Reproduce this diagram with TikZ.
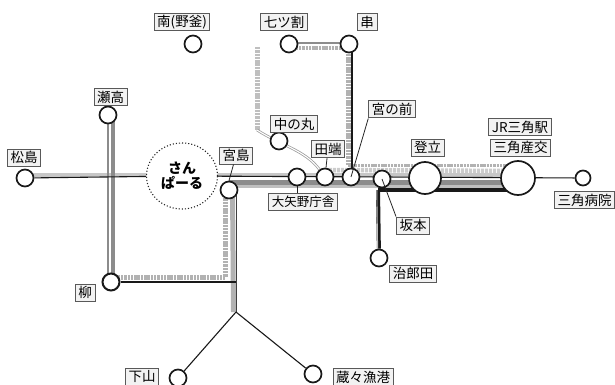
\documentclass[tikz,border=0pt]{standalone}
\usepackage{fontspec}
\setmainfont{Noto Sans CJK JP}
\usetikzlibrary{shapes.geometric}
\pgfdeclarelayer{bands}
\pgfsetlayers{bands,main}
\begin{document}
\begin{tikzpicture}[x=1pt,y=-1pt]
        \tikzstyle{station}=[circle,draw=black!90,fill=white,line width=1.7pt,inner sep=0pt,minimum size=17pt]
        \tikzstyle{bigstation}=[station,minimum size=32pt]
        \tikzstyle{stationname}=[draw=black!65,fill=black!5,line width=1pt,font=\fontsize{13.5pt}{14pt}\selectfont,inner xsep=3pt,inner ysep=0pt,minimum height=17pt,minimum width=20pt]
        \tikzstyle{leader}=[draw=black!85,line width=0.8pt]
        \tikzstyle{thinedge}=[draw=black!90,line width=1.1pt]
        \tikzstyle{lightedge}=[draw=black!22,line width=4.5pt]
        \tikzstyle{darkedge}=[draw=black!45,line width=3.5pt]
        \tikzstyle{dotedge}=[draw=black!30,line width=5pt,dash pattern=on 2.5pt off 0.8pt]
        \tikzstyle{heavyedge}=[draw=black!90,line width=4pt]
        \useasboundingbox (0,0) rectangle (615,385);

        % stations
        \node [station] (matsushima) at (25,178) {};
        \node [station] (setaka) at (108,115) {};
        \node [station] (minami) at (193,44) {};
        \node [station] (nanatsu) at (289,44) {};
        \node [station] (kushi) at (349,44) {};
        \node [station] (nakanomaru) at (279,141) {};
        \node [station] (miyanomae) at (351,177) {};
        \node [station] (tabata) at (325,177) {};
        \node [station] (oyano) at (297,177) {};
        \node [station] (miyajima) at (229,190) {};
        \node [station] (sakamoto) at (382,179) {};
        \node [bigstation] (noboritate) at (425,178) {};
        \node [bigstation,minimum size=34pt] (misumi) at (518,178) {};
        \node [station,minimum size=15pt] (byoin) at (583,178) {};
        \node [station] (jirota) at (379,258) {};
        \node [station,line width=2pt] (yanagi) at (111,282) {};
        \node [station] (shimoyama) at (178,378) {};
        \node [station] (kurakura) at (313,374) {};
        \node [ellipse,draw=black!85,dotted,line width=1.1pt,fill=white,minimum width=71pt,minimum height=66pt,inner sep=0pt,align=center,font=\fontsize{14pt}{15pt}\selectfont\bfseries] (sanparu) at (182,176) {さん\\ぱーる};

        % free ends of the lines
        \coordinate (fork) at (236,312);
        \coordinate (bendtop) at (257,47);
        \coordinate (bendlow) at (257,130);
        \coordinate (jointop) at (348,165);
        \coordinate (joinend) at (508,165);
        \coordinate (dashend) at (225,185);
        \coordinate (corner) at (378,190);
        \coordinate (corneryanagi) at (225,277);

        \begin{pgfonlayer}{bands}
         % west
         \path[lightedge] ([yshift=3pt]matsushima.center) -- ([yshift=3pt]sanparu.center |- matsushima.center);
         \path[draw=black!45,line width=2.5pt] ([xshift=0pt]setaka.center) -- ([xshift=-3pt]yanagi.center);
         \path[darkedge] ([xshift=5pt]setaka.center) -- ([xshift=2pt]yanagi.center);
         % main line
         \path[lightedge] ([yshift=3pt]sanparu.center |- misumi.center) -- ([yshift=3pt]misumi.center);
         \path[darkedge,line width=5pt] ([yshift=-4.5pt]miyajima.center |- misumi.center) -- ([yshift=-4.5pt]misumi.center);
         \path[draw=black!25,line width=3pt] ([yshift=-8.5pt]miyajima.center |- misumi.center) -- ([yshift=-8.5pt]misumi.center);
         \path[draw=black!20,line width=4.5pt,dash pattern=on 3pt off 1pt] ([yshift=7pt]tabata.center) -- ([yshift=7pt]misumi.center);
         \path[dotedge,line width=3pt] (jointop) -- (joinend);
         % north
         \path[darkedge,line width=2.5pt] ([yshift=1pt]nanatsu.center) -- ([yshift=1pt]kushi.center);
         \path[dotedge,line width=3.5pt] ([yshift=-4pt]nanatsu.center) -- ([yshift=-4pt]kushi.center);
         \path[dotedge] ([xshift=-1pt]kushi.center) -- (jointop);
         \path[thinedge] ([xshift=3pt]kushi.center) -- ([xshift=1pt]miyanomae.center);
         \path[dotedge,draw=black!25] (bendtop) -- (bendlow);
         \path[draw=black!40,line width=2.6pt] (bendlow) .. controls (280,145) and (305,150) .. (tabata);
         \path[draw=white,line width=1.1pt] (bendlow) .. controls (280,145) and (305,150) .. (tabata);
         % south
         \path[draw=black!30,line width=5pt] ([xshift=3.5pt]miyajima.center) -- ([xshift=-2.5pt]fork);
         \path[draw=black!75,line width=1pt] ([xshift=7pt]miyajima.center) -- (fork);
         \path[dotedge] (dashend) -- (corneryanagi);
         \path[dotedge] ([yshift=5pt]yanagi.center) -- (corneryanagi);
         \path[thinedge] (yanagi) -- (yanagi -| fork);
         \path[thinedge] (fork) -- (shimoyama);
         \path[thinedge] (fork) -- (kurakura);
         % jirota
         \path[heavyedge] (corner) -- (corner -| misumi);
         \path[heavyedge] (corner) -- (jirota);
         \path[draw=black!25,line width=0.9pt] ([xshift=-1.2pt]corner) -- ([xshift=-1.2pt]jirota.center);
         % thin lines on top
         \path[thinedge] (matsushima) -- (sanparu);
         \path[thinedge] (sanparu) -- (byoin);
        \end{pgfonlayer}

        % names
        \node [stationname] (nmatsushima) at (24,157.5) {松島};
        \node [stationname] (nsetaka) at (110.5,97.5) {瀬高};
        \node [stationname] (nminami) at (182,22.5) {南(野釜)};
        \node [stationname] (nnanatsu) at (284,22.5) {七ツ割};
        \node [stationname] (nkushi) at (367,22.5) {串};
        \node [stationname] (nnakanomaru) at (294,124) {中の丸};
        \node [stationname] (nmiyanomae) at (392,109.5) {宮の前};
        \node [stationname] (ntabata) at (328,149) {田端};
        \node [stationname,font=\fontsize{12.5pt}{13pt}\selectfont] (noyano) at (303,202) {大矢野庁舎};
        \node [stationname] (nmiyajima) at (236,155.5) {宮島};
        \node [stationname] (nsakamoto) at (413,225.5) {坂本};
        \node [stationname] (nnoboritate) at (427.5,147.5) {登立};
        \node [stationname] (njr) at (520,127) {JR三角駅};
        \node [stationname] (nmisumi) at (520.5,147.5) {三角産交};
        \node [stationname] (nbyoin) at (584.5,200) {三角病院};
        \node [stationname] (njirota) at (413,273.5) {治郎田};
        \node [stationname] (nyanagi) at (85,292.5) {柳};
        \node [stationname] (nshimoyama) at (142,377) {下山};
        \node [stationname] (nkurakura) at (363,377) {蔵々漁港};

        % leaders
        \path[leader] (nmiyajima) -- (miyajima.north);
        \path[leader] (ntabata) -- (tabata);
        \path[leader] (nmiyanomae.south west) -- (miyanomae.center);
        \path[leader] (noyano.north -| oyano) -- (oyano);
        \path[leader] (nsakamoto.north west) -- (sakamoto.center);
\end{tikzpicture}
\end{document}
